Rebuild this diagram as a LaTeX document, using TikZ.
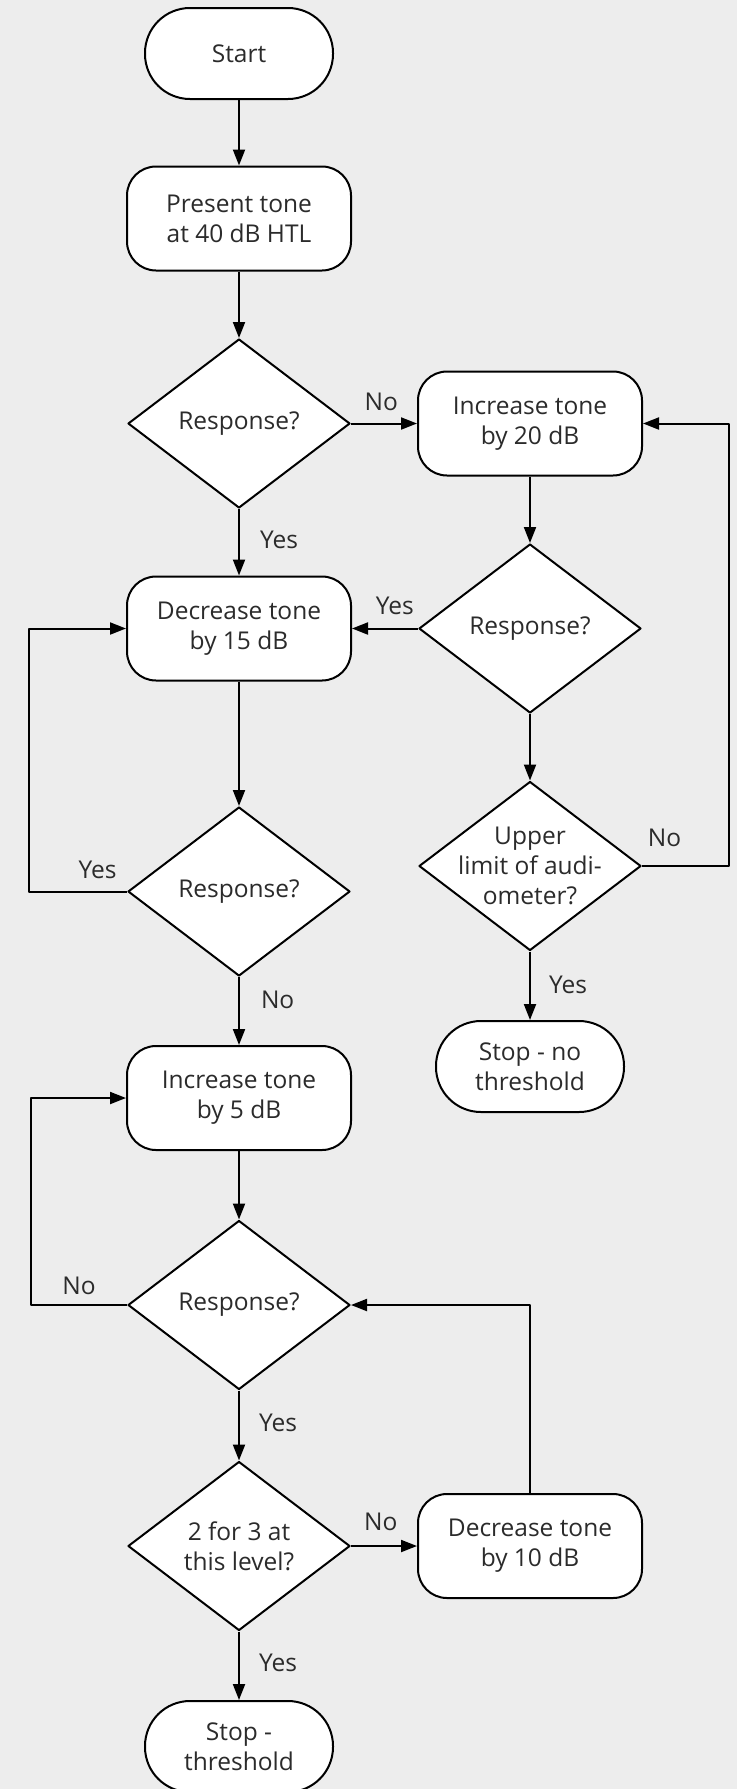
\documentclass[tikz,border=0pt]{standalone}
\usepackage{fontspec}
\setmainfont{Open Sans}
\usetikzlibrary{shapes.geometric,arrows.meta}
\definecolor{ChartBack}{HTML}{EDEDED}
\definecolor{ChartInk}{HTML}{2B2B2B}

\begin{document}
\begin{tikzpicture}[x=1pt,y=-1pt,line join=round,
  every node/.style={font=\fontsize{24.5}{30}\selectfont,text=ChartInk},
  term/.style={draw,fill=white,line width=2pt,rounded corners=45pt,minimum width=188pt,minimum height=91pt,align=center},
  proc/.style={draw,fill=white,line width=2pt,rounded corners=29pt,minimum width=224pt,minimum height=104pt,align=center},
  decide/.style={diamond,draw,fill=white,line width=2pt,minimum width=222pt,minimum height=169pt,inner sep=0pt,align=center},
  arr/.style={line width=2pt,-{Triangle[length=16pt,width=12pt]}},
  lab/.style={inner sep=0pt,text height=17pt,text depth=5pt}]
  \useasboundingbox (0,0) rectangle (737,1789);
  \fill[ChartBack] (0,0) rectangle (737,1789);
  \coordinate (loopA) at (29,0);\coordinate (loopB) at (729,0);\coordinate (loopC) at (31,0);
  % left column
  \node[term] (start) at (239,53.5) {Start};
  \node[proc] (present) at (239,218.5) {Present tone\\at 40 dB HTL};
  \node[decide] (resp1) at (239,423.5) {Response?};
  \node[proc] (dec15) at (239,628.5) {Decrease tone\\by 15 dB};
  \node[decide] (resp3) at (239,891.5) {Response?};
  \node[proc] (inc5) at (239,1098) {Increase tone\\by 5 dB};
  \node[decide] (resp4) at (239,1305) {Response?};
  \node[decide] (level) at (239,1546) {2 for 3 at\\this level?};
  \node[term] (stopyes) at (239,1746.5) {Stop -\\threshold};
  % right column
  \node[proc] (inc20) at (530,423.5) {Increase tone\\by 20 dB};
  \node[decide] (resp2) at (530,628.5) {Response?};
  \node[decide,label={[align=center]center:Upper\\limit of audi-\\ometer?}] (limit) at (530,866) {};
  \node[term] (stopno) at (530,1066.5) {Stop - no\\threshold};
  \node[proc] (dec10) at (530,1546) {Decrease tone\\by 10 dB};
  % connectors
  \foreach \a/\b in {start/present,present/resp1,inc20/resp2,resp2/limit,dec15/resp3,inc5/resp4}{\draw[arr] (\a)--(\b);}
  \draw[arr] (resp1) -- node[lab,above=7pt,pos=.46] (no1) {No} (inc20);
  \draw[arr] (resp1) -- node[lab,right=20pt] (yes1) {Yes} (dec15);
  \draw[arr] (resp2) -- node[lab,above=8pt,pos=.35] (yes2) {Yes} (dec15);
  \draw[arr] (limit.east) -- node[lab,above=14pt,pos=.26] (no2) {No} (limit.east -| loopB) |- (inc20.east);
  \draw[arr] (limit) -- node[lab,right=18pt,pos=.53] (yes3) {Yes} (stopno);
  \draw[arr] (resp3.west) -- node[lab,above=7pt,pos=.3] (yes4) {Yes} (resp3.west -| loopA) |- (dec15.west);
  \draw[arr] (resp3) -- node[lab,right=21pt,pos=.37] (no3) {No} (inc5);
  \draw[arr] (resp4.west) -- node[lab,above=5pt] (no4) {No} (resp4.west -| loopC) |- (inc5.west);
  \draw[arr] (resp4) -- node[lab,right=19pt] (yes5) {Yes} (level);
  \draw[arr] (level) -- node[lab,above=10pt,pos=.45] (no5) {No} (dec10);
  \draw[arr] (dec10.north) |- (resp4.east);
  \draw[arr] (level) -- node[lab,right=19pt] (yes6) {Yes} (stopyes);
\end{tikzpicture}
\end{document}
